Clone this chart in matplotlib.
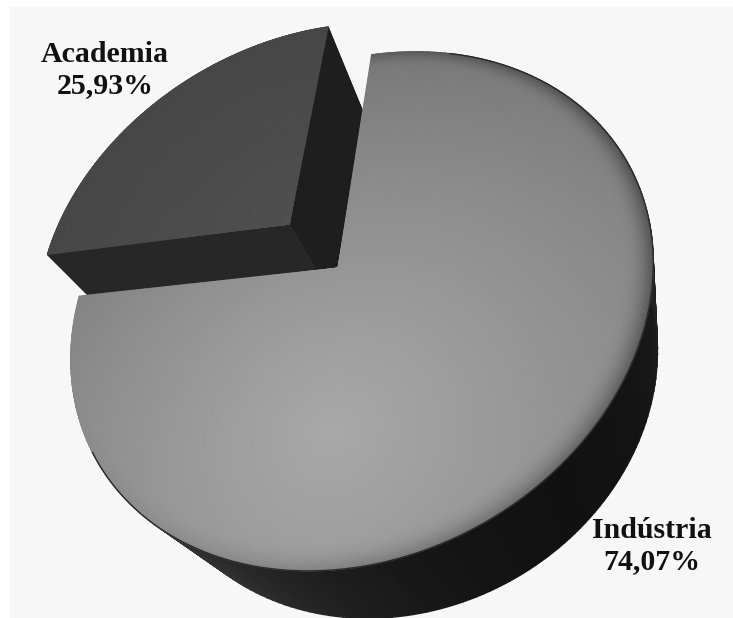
import numpy as np
import matplotlib
matplotlib.use("Agg")
import matplotlib.pyplot as plt
from matplotlib.patches import Polygon, Rectangle

rotulos = ["Academia", "Indústria"]
valores = [25.93, 74.07]
explosao = [0.29, 0.0]
pos_rotulos = [(105, 70), (652, 546)]

# câmera e posição do gráfico (em pixels)
ELEV = np.radians(51.8)
DIST = 3.05
ROLL = np.radians(29)
ESP = 0.55
INICIO = 58.5
ESCALA = 298.0
CX, CY = 338.0, 268.0
W, H = 733, 618


def projeta(X, Y, Z):
    s, c = np.sin(ELEV), np.cos(ELEV)
    vy = Y + DIST * c
    vz = Z - DIST * s
    yc = vy * s + vz * c
    zc = vy * c - vz * s
    u = X / zc * DIST
    w = yc / zc * DIST
    ur = u * np.cos(ROLL) - w * np.sin(ROLL)
    wr = u * np.sin(ROLL) + w * np.cos(ROLL)
    return CX + ESCALA * ur, CY - ESCALA * wr


def brilho_topo_ind(x, y, r, phi):
    b = 0.66 - 0.12 * np.hypot(x + 0.25, y + 0.54)
    t = np.clip((r - 0.92) / 0.08, 0, 1)
    k = (1 + np.cos(phi - np.radians(-20))) / 2
    return b * (1 - 0.38 * t ** 2 * k)


def brilho_parede(phi):
    return 0.07 + 0.4 * (1 - np.cos(phi - np.radians(-75))) / 2


fig = plt.figure(figsize=(W / 100, H / 100), dpi=100)
fig.patch.set_facecolor("white")
ax = fig.add_axes([0, 0, 1, 1])
ax.set_xlim(0, W)
ax.set_ylim(H, 0)
ax.axis("off")
ax.add_patch(Rectangle((10, 7), W - 10, H - 7, color="#f7f7f7", zorder=0))

total = sum(valores)
limites = np.concatenate([[0], np.cumsum(valores)]) / total * 360 + INICIO

for i in range(len(valores)):
    a0, a1 = np.radians(limites[i]), np.radians(limites[i + 1])
    meio = (a0 + a1) / 2
    dx, dy = explosao[i] * np.cos(meio), explosao[i] * np.sin(meio)
    phi = np.linspace(a0, a1, 200)

    # parede externa
    pp, zz = np.meshgrid(phi, np.array([-ESP, 0.0]))
    px, py = projeta(dx + np.cos(pp), dy + np.sin(pp), zz)
    cor = brilho_parede(pp) if i == 1 else np.full_like(pp, 0.14)
    ax.pcolormesh(px, py, cor, shading="gouraud", cmap="gray", vmin=0, vmax=1, zorder=1 + 3 * i)

    # faces radiais do setor destacado
    if explosao[i] > 0:
        for ang, tom in [(a0, "#1e1e1e"), (a1, "#272727")]:
            xs = dx + np.array([0, np.cos(ang), np.cos(ang), 0])
            ys = dy + np.array([0, np.sin(ang), np.sin(ang), 0])
            zs = np.array([0, 0, -ESP, -ESP])
            qx, qy = projeta(xs, ys, zs)
            ax.add_patch(Polygon(np.column_stack([qx, qy]), closed=True, facecolor=tom,
                                 edgecolor=tom, lw=0.5, zorder=2 + 3 * i))

    # topo
    rr, pp = np.meshgrid(np.linspace(0, 1, 60), phi)
    xw, yw = dx + rr * np.cos(pp), dy + rr * np.sin(pp)
    px, py = projeta(xw, yw, np.zeros_like(xw))
    if i == 1:
        cor = brilho_topo_ind(rr * np.cos(pp), rr * np.sin(pp), rr, pp)
    else:
        cor = 0.31 - 0.03 * rr
    ax.pcolormesh(px, py, cor, shading="gouraud", cmap="gray", vmin=0, vmax=1, zorder=3 + 3 * i)

    # aresta escura entre o topo e a parede, no lado visível
    if i == 1:
        borda = np.linspace(np.radians(-170), np.radians(40), 150)
        bx, by = projeta(np.cos(borda), np.sin(borda), np.zeros_like(borda))
        ax.plot(bx, by, color="#2a2a2a", lw=1.0, zorder=3 + 3 * i + 0.5)

for nome, v, (lx, ly) in zip(rotulos, valores, pos_rotulos):
    txt = f"{nome}\n{v:.2f}".replace(".", ",") + "%"
    ax.text(lx, ly, txt, ha="center", va="center", fontsize=21.5, fontweight="bold",
            family="Liberation Serif", color="#111111", linespacing=1.15, zorder=10)

fig.savefig("out.png", dpi=100, facecolor=fig.get_facecolor())
